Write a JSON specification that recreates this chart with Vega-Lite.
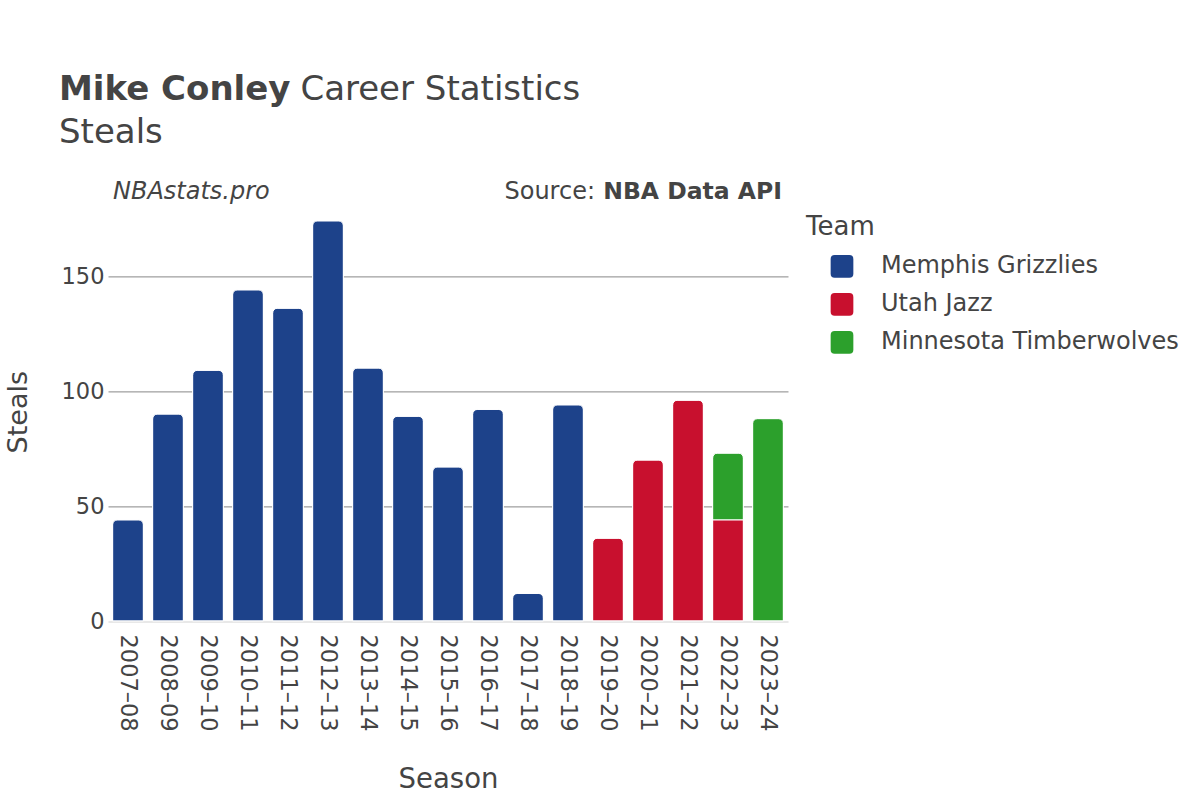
{
  "$schema": "https://vega.github.io/schema/vega-lite/v6.json",
  "width": 680,
  "height": 418.6,
  "autosize": "none",
  "padding": {"left": 108, "top": 202.4, "right": 412, "bottom": 179},
  "background": "white",
  "config": {
    "font": "DejaVu Sans",
    "view": {"stroke": null},
    "axis": {"labelColor": "#444", "titleColor": "#444", "titleFontWeight": "normal", "ticks": false, "domain": false}
  },
  "title": {
    "text": "Mike Conley",
    "subtitle": ["\u200b\u2003\u2003\u2003\u2003\u2003\u2003\u2003\u200aCareer Statistics", "Steals"],
    "anchor": "start",
    "frame": "group",
    "dx": -49,
    "offset": 30,
    "fontSize": 34,
    "fontWeight": "bold",
    "color": "#444",
    "subtitleFontSize": 34,
    "subtitleColor": "#444",
    "subtitleFontWeight": "normal",
    "subtitleLineHeight": 43,
    "subtitlePadding": -34
  },
  "layer": [
    {
      "data": {
        "values": [
          {"Season": "2007–08", "Team": "Memphis Grizzlies", "Steals": 44},
          {"Season": "2008–09", "Team": "Memphis Grizzlies", "Steals": 90},
          {"Season": "2009–10", "Team": "Memphis Grizzlies", "Steals": 109},
          {"Season": "2010–11", "Team": "Memphis Grizzlies", "Steals": 144},
          {"Season": "2011–12", "Team": "Memphis Grizzlies", "Steals": 136},
          {"Season": "2012–13", "Team": "Memphis Grizzlies", "Steals": 174},
          {"Season": "2013–14", "Team": "Memphis Grizzlies", "Steals": 110},
          {"Season": "2014–15", "Team": "Memphis Grizzlies", "Steals": 89},
          {"Season": "2015–16", "Team": "Memphis Grizzlies", "Steals": 67},
          {"Season": "2016–17", "Team": "Memphis Grizzlies", "Steals": 92},
          {"Season": "2017–18", "Team": "Memphis Grizzlies", "Steals": 12},
          {"Season": "2018–19", "Team": "Memphis Grizzlies", "Steals": 94},
          {"Season": "2019–20", "Team": "Utah Jazz", "Steals": 36},
          {"Season": "2020–21", "Team": "Utah Jazz", "Steals": 70},
          {"Season": "2021–22", "Team": "Utah Jazz", "Steals": 96},
          {"Season": "2022–23", "Team": "Utah Jazz", "Steals": 44},
          {"Season": "2022–23", "Team": "Minnesota Timberwolves", "Steals": 29},
          {"Season": "2023–24", "Team": "Minnesota Timberwolves", "Steals": 88}
        ]
      },
      "mark": {
        "type": "bar",
        "stroke": "white",
        "strokeWidth": 1,
        "cornerRadiusTopLeft": {"expr": "datum.Team === 'Utah Jazz' && datum.Season === '2022–23' ? 0 : 5"},
        "cornerRadiusTopRight": {"expr": "datum.Team === 'Utah Jazz' && datum.Season === '2022–23' ? 0 : 5"}
      },
      "encoding": {
        "x": {
          "field": "Season",
          "type": "nominal",
          "sort": null,
          "scale": {"paddingInner": 0.23, "paddingOuter": 0.115},
          "axis": {
            "title": "Season",
            "labelAngle": 90,
            "labelFontSize": 22.5,
            "labelPadding": 13,
            "titleFontSize": 27.5,
            "titlePadding": 34
          }
        },
        "y": {
          "field": "Steals",
          "type": "quantitative",
          "stack": "zero",
          "scale": {"domain": [0, 182], "nice": false},
          "axis": {
            "title": "Steals",
            "values": [0, 50, 100, 150],
            "grid": true,
            "gridColor": {"condition": {"test": "datum.value === 0", "value": "#e8e8e8"}, "value": "#888"},
            "gridWidth": {"condition": {"test": "datum.value === 0", "value": 2}, "value": 1},
            "labelFontSize": 22.5,
            "labelPadding": 4,
            "titleFontSize": 27,
            "titlePadding": 29
          }
        },
        "color": {
          "field": "Team",
          "type": "nominal",
          "scale": {
            "domain": ["Memphis Grizzlies", "Utah Jazz", "Minnesota Timberwolves"],
            "range": ["#1d428a", "#c8102e", "#2ca02c"]
          },
          "legend": {
            "title": "Team",
            "orient": "none",
            "legendX": 698,
            "legendY": 12,
            "padding": 0,
            "titleFontSize": 26,
            "titleFontWeight": "normal",
            "titleColor": "#444",
            "titlePadding": 14,
            "labelFontSize": 24,
            "labelColor": "#444",
            "labelLimit": 0,
            "symbolType": "M-1,-0.65 Q-1,-1 -0.65,-1 L0.65,-1 Q1,-1 1,-0.65 L1,0.65 Q1,1 0.65,1 L-0.65,1 Q-1,1 -1,0.65 Z",
            "symbolSize": 515,
            "symbolStrokeWidth": 0,
            "symbolOffset": 24,
            "labelOffset": 27,
            "rowPadding": 14
          }
        },
        "order": {"field": "Team", "sort": "descending"}
      }
    },
    {
      "data": {"values": [{"label": "NBAstats.pro"}]},
      "mark": {"type": "text", "align": "left", "baseline": "alphabetic", "fontStyle": "italic", "fontSize": 24, "color": "#444", "dx": -15},
      "encoding": {
        "x": {"datum": "2007–08"},
        "y": {"datum": 183.5},
        "text": {"field": "label"}
      }
    },
    {
      "data": {"values": [{"label": "Source:"}]},
      "mark": {"type": "text", "align": "right", "baseline": "alphabetic", "fontSize": 24, "color": "#444", "dx": -173},
      "encoding": {
        "x": {"datum": "2023–24"},
        "y": {"datum": 183.5},
        "text": {"field": "label"}
      }
    },
    {
      "data": {"values": [{"label": "NBA Data API"}]},
      "mark": {"type": "text", "align": "right", "baseline": "alphabetic", "fontSize": 23.5, "fontWeight": "bold", "color": "#444", "dx": 14},
      "encoding": {
        "x": {"datum": "2023–24"},
        "y": {"datum": 183.5},
        "text": {"field": "label"}
      }
    }
  ]
}
